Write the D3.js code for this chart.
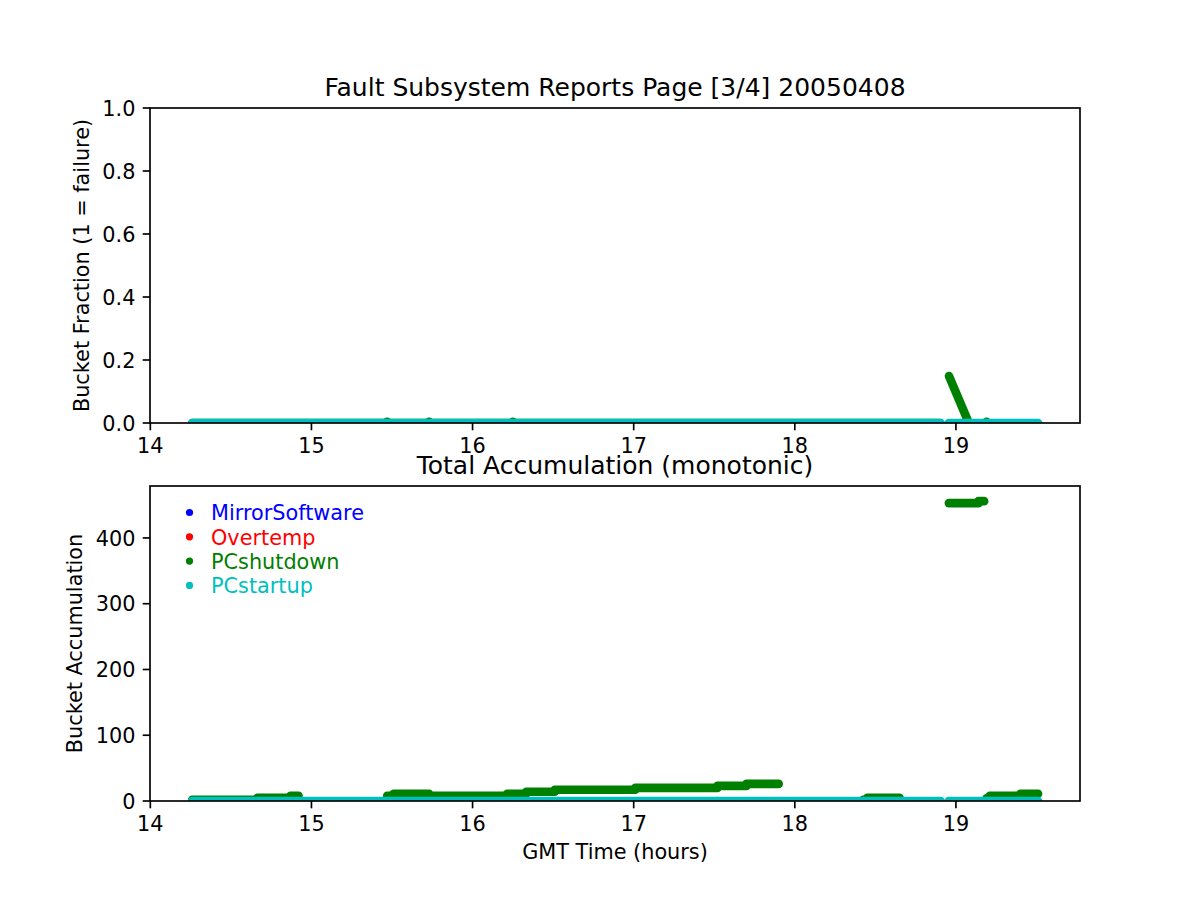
<!DOCTYPE html>
<html><head><meta charset="utf-8">
<script src="https://cdn.jsdelivr.net/npm/d3@7"></script>
<style>body{margin:0;background:#fff} text{font-family:"DejaVu Sans",sans-serif;fill:#000}</style>
</head><body><svg id="c" width="1200" height="900"></svg>
<script>
// ---- data ----
const seriesNames = ["MirrorSoftware", "Overtemp", "PCshutdown", "PCstartup"];
const seriesColors = ["#0000ff", "#ff0000", "#008000", "#00bfbf"];
const xTicks = [14, 15, 16, 17, 18, 19];
const fracTicks = [0.0, 0.2, 0.4, 0.6, 0.8, 1.0];
const accTicks = [0, 100, 200, 300, 400];

// runs of consecutive reports: [startHour, endHour, value]
const fracShutdownRuns = [[14.26, 18.9, 0], [15.47, 15.47, 0.004], [15.73, 15.73, 0.004], [16.25, 16.25, 0.004], [19.19, 19.19, 0.004]];
const fracShutdownSpike = [[18.957, 0.149], [19.08, 0.0]];
const fracStartupRuns = [[14.26, 18.905, 0], [18.955, 19.51, 0]];

const accShutdownRuns = [
  [14.26, 14.665, 2], [14.665, 14.87, 5], [14.87, 14.92, 8],
  [15.47, 15.51, 8], [15.51, 15.73, 11], [15.73, 16.215, 8],
  [16.215, 16.333, 11], [16.333, 16.51, 14], [16.51, 17.01, 17],
  [17.01, 17.52, 20], [17.52, 17.70, 23], [17.70, 17.90, 26],
  [18.425, 18.45, 2], [18.45, 18.65, 5],
  [18.956, 19.14, 453], [19.14, 19.175, 456],
  [19.19, 19.21, 4], [19.21, 19.40, 8], [19.40, 19.51, 11]
];
const accStartupRuns = [[14.26, 18.905, 0], [18.955, 19.51, 0]];

// ---- layout ----
const svg = d3.select("#c");
const L = 150, R = 1080;
const top1 = 108, bot1 = 423, top2 = 486, bot2 = 801;
const markW = 8.6;
const x1 = d3.scaleLinear().domain([13.998, 19.77]).range([L, R]);
const yF = d3.scaleLinear().domain([0, 1]).range([bot1, top1]);
const yA = d3.scaleLinear().domain([0, 479]).range([bot2, top2]);

const defs = svg.append("defs");
defs.append("clipPath").attr("id", "clip1").append("rect").attr("x", L).attr("y", top1).attr("width", R - L).attr("height", bot1 - top1);
defs.append("clipPath").attr("id", "clip2").append("rect").attr("x", L).attr("y", top2).attr("width", R - L).attr("height", bot2 - top2);

function drawRuns(g, runs, y, color) {
  g.selectAll(null).data(runs).enter().append("path")
    .attr("d", d => d3.line()([[x1(d[0]), y(d[2])], [x1(d[1]), y(d[2])]]))
    .attr("fill", "none").attr("stroke", color).attr("stroke-width", markW)
    .attr("stroke-linecap", "round");
}
function drawPoly(g, pts, y, color) {
  g.append("path").attr("d", d3.line().x(d => x1(d[0])).y(d => y(d[1]))(pts))
    .attr("fill", "none").attr("stroke", color).attr("stroke-width", markW)
    .attr("stroke-linecap", "round").attr("stroke-linejoin", "round");
}

function axes(top, bot, y, ticks, fmt, title, ylabel, ylabX) {
  const fs = 20.8;
  // x ticks
  xTicks.forEach(t => {
    svg.append("line").attr("x1", x1(t)).attr("x2", x1(t)).attr("y1", bot).attr("y2", bot + 7.3)
      .attr("stroke", "#000").attr("stroke-width", 1.67);
    svg.append("text").attr("x", x1(t)).attr("y", bot + 30).attr("text-anchor", "middle")
      .attr("font-size", fs).text(t);
  });
  ticks.forEach(t => {
    svg.append("line").attr("x1", L - 7.3).attr("x2", L).attr("y1", y(t)).attr("y2", y(t))
      .attr("stroke", "#000").attr("stroke-width", 1.67);
    svg.append("text").attr("x", L - 14.6).attr("y", y(t) + 7.6).attr("text-anchor", "end")
      .attr("font-size", fs).text(fmt(t));
  });
  svg.append("rect").attr("x", L).attr("y", top).attr("width", R - L).attr("height", bot - top)
    .attr("fill", "none").attr("stroke", "#000").attr("stroke-width", 1.67);
  svg.append("text").attr("x", (L + R) / 2).attr("y", top - 12.5).attr("text-anchor", "middle")
    .attr("font-size", 25).text(title);
  svg.append("text").attr("transform", `translate(${ylabX},${(top + bot) / 2}) rotate(-90)`)
    .attr("text-anchor", "middle").attr("font-size", fs).text(ylabel);
}

// top panel
const g1 = svg.append("g").attr("clip-path", "url(#clip1)");
drawRuns(g1, fracShutdownRuns, yF, seriesColors[2]);
drawPoly(g1, fracShutdownSpike, yF, seriesColors[2]);
drawRuns(g1, fracStartupRuns, yF, seriesColors[3]);
axes(top1, bot1, yF, fracTicks, d3.format(".1f"), "Fault Subsystem Reports Page [3/4] 20050408", "Bucket Fraction (1 = failure)", 89);

// bottom panel
const g2 = svg.append("g").attr("clip-path", "url(#clip2)");
drawRuns(g2, accShutdownRuns, yA, seriesColors[2]);
drawRuns(g2, accStartupRuns, yA, seriesColors[3]);
axes(top2, bot2, yA, accTicks, d3.format("d"), "Total Accumulation (monotonic)", "Bucket Accumulation", 82);

svg.append("text").attr("x", (L + R) / 2).attr("y", 859).attr("text-anchor", "middle")
  .attr("font-size", 20.8).text("GMT Time (hours)");

// legend
const leg = svg.append("g");
seriesNames.forEach((n, i) => {
  const cy = 512.5 + i * 24.3;
  leg.append("circle").attr("cx", 189.5).attr("cy", cy).attr("r", 3.6).attr("fill", seriesColors[i]);
  leg.append("text").attr("x", 211).attr("y", cy + 7.7).attr("font-size", 20.8)
    .style("fill", seriesColors[i]).text(n);
});
</script></body></html>
